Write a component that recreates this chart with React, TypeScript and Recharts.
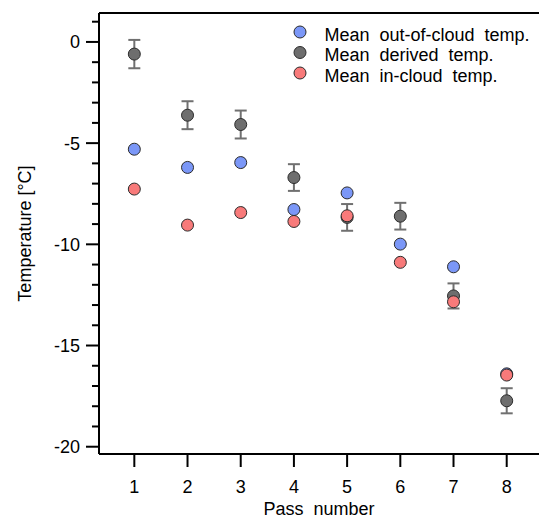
import React from 'react';
import { ScatterChart, Scatter, XAxis, YAxis, ErrorBar, Legend, ReferenceLine } from 'recharts';

const passes = [1, 2, 3, 4, 5, 6, 7, 8];
const outOfCloudTemp = [-5.3, -6.2, -5.96, -8.28, -7.46, -9.99, -11.11, -16.4];
const derivedTemp = [-0.6, -3.62, -4.08, -6.7, -8.67, -8.61, -12.55, -17.73];
const derivedTempErr = [0.7, 0.69, 0.69, 0.66, 0.66, 0.66, 0.62, 0.62];
const inCloudTemp = [-7.27, -9.05, -8.43, -8.87, -8.59, -10.89, -12.84, -16.46];

const seriesNames = ['Mean out-of-cloud temp.', 'Mean derived temp.', 'Mean in-cloud temp.'];
const seriesColors = ['#7b97f7', '#6e6e6e', '#f87a7a'];

const yTicks = [-20, -19, -18, -17, -16, -15, -14, -13, -12, -11, -10, -9, -8, -7, -6, -5, -4, -3, -2, -1, 0, 1];
const xTicks = [1, 2, 3, 4, 5, 6, 7, 8];
const xDomain = [0.336, 8.607];
const yDomain = [-20.36, 1.43];

const FONT = '"Liberation Sans", Arial, sans-serif';

const outData = passes.map((p, i) => ({ x: p, y: outOfCloudTemp[i] }));
const derivedData = passes.map((p, i) => ({ x: p, y: derivedTemp[i], err: derivedTempErr[i] }));
const inData = passes.map((p, i) => ({ x: p, y: inCloudTemp[i] }));

const AXIS_X = 99;

const makeDot = (fill: string) => (props: any) => {
  if (props.cx == null || props.cy == null) return <g />;
  return <circle cx={props.cx} cy={props.cy} r={6} fill={fill} stroke="#2b2b2b" strokeWidth={1} />;
};

const YTick = (props: any) => {
  const { y, payload } = props;
  const v = payload.value;
  const major = Math.abs(v % 5) === 0;
  return (
    <g>
      <line x1={major ? AXIS_X - 13 : AXIS_X - 7} x2={AXIS_X} y1={y} y2={y} stroke="#000" strokeWidth={2} />
      {major ? (
        <text x={AXIS_X - 19} y={y} dy="0.355em" textAnchor="end" fontSize={18} fontFamily={FONT} fill="#000">
          {v}
        </text>
      ) : null}
    </g>
  );
};

const LegendContent = () => (
  <svg width={259} height={80} style={{ display: 'block' }}>
    {seriesNames.map((n, i) => (
      <g key={n}>
        <circle cx={20} cy={22 + i * 20.5} r={6} fill={seriesColors[i]} stroke="#2b2b2b" strokeWidth={1} />
        <text x={44.5} y={30.5 + i * 20.5} fontSize={18} fontFamily={FONT} fill="#000" style={{ wordSpacing: 5 }}>
          {n}
        </text>
      </g>
    ))}
  </svg>
);

export default function App() {
  return (
    <div style={{ position: 'absolute', left: 0, top: 0 }}>
      <ScatterChart width={539} height={519} margin={{ top: 13, right: 0, bottom: 0, left: 0 }}>
        <XAxis
          type="number"
          dataKey="x"
          domain={xDomain}
          ticks={xTicks}
          allowDataOverflow
          height={65}
          tickSize={13}
          tickMargin={13}
          axisLine={{ stroke: '#000', strokeWidth: 2 }}
          tickLine={{ stroke: '#000', strokeWidth: 2 }}
          tick={{ fontSize: 18, fontFamily: FONT, fill: '#000' }}
          label={{
            content: (p: any) => {
              const vb = p.viewBox;
              return (
                <text x={vb.x + vb.width / 2} y={vb.y + 61} textAnchor="middle" fontSize={18} fontFamily={FONT} fill="#000" style={{ wordSpacing: 5 }}>
                  Pass number
                </text>
              );
            },
          }}
        />
        <YAxis
          type="number"
          dataKey="y"
          domain={yDomain}
          ticks={yTicks}
          allowDataOverflow
          interval={0}
          width={99}
          tickSize={13}
          tickMargin={6}
          tickLine={false}
          axisLine={{ stroke: '#000', strokeWidth: 2 }}
          tick={<YTick />}
          label={{
            content: (p: any) => {
              const vb = p.viewBox;
              const cy = vb.y + vb.height / 2;
              return (
                <text x={31} y={cy} transform={`rotate(-90, 31, ${cy})`} textAnchor="middle" fontSize={18} fontFamily={FONT} fill="#000">
                  Temperature [°C]
                </text>
              );
            },
          }}
        />
        <ReferenceLine y={yDomain[1]} stroke="#000" strokeWidth={2} />
        <Legend
          layout="horizontal"
          verticalAlign="middle"
          align="center"
          content={<LegendContent />}
          wrapperStyle={{ position: 'absolute', left: 280, top: 10, width: 259, height: 80 }}
        />
        <Scatter name={seriesNames[0]} data={outData} fill={seriesColors[0]} shape={makeDot(seriesColors[0])} isAnimationActive={false} />
        <Scatter name={seriesNames[1]} data={derivedData} fill={seriesColors[1]} shape={makeDot(seriesColors[1])} isAnimationActive={false}>
          <ErrorBar dataKey="err" direction="y" width={6} stroke="#707070" strokeWidth={2} />
        </Scatter>
        <Scatter name={seriesNames[2]} data={inData} fill={seriesColors[2]} shape={makeDot(seriesColors[2])} isAnimationActive={false} />
      </ScatterChart>
    </div>
  );
}
